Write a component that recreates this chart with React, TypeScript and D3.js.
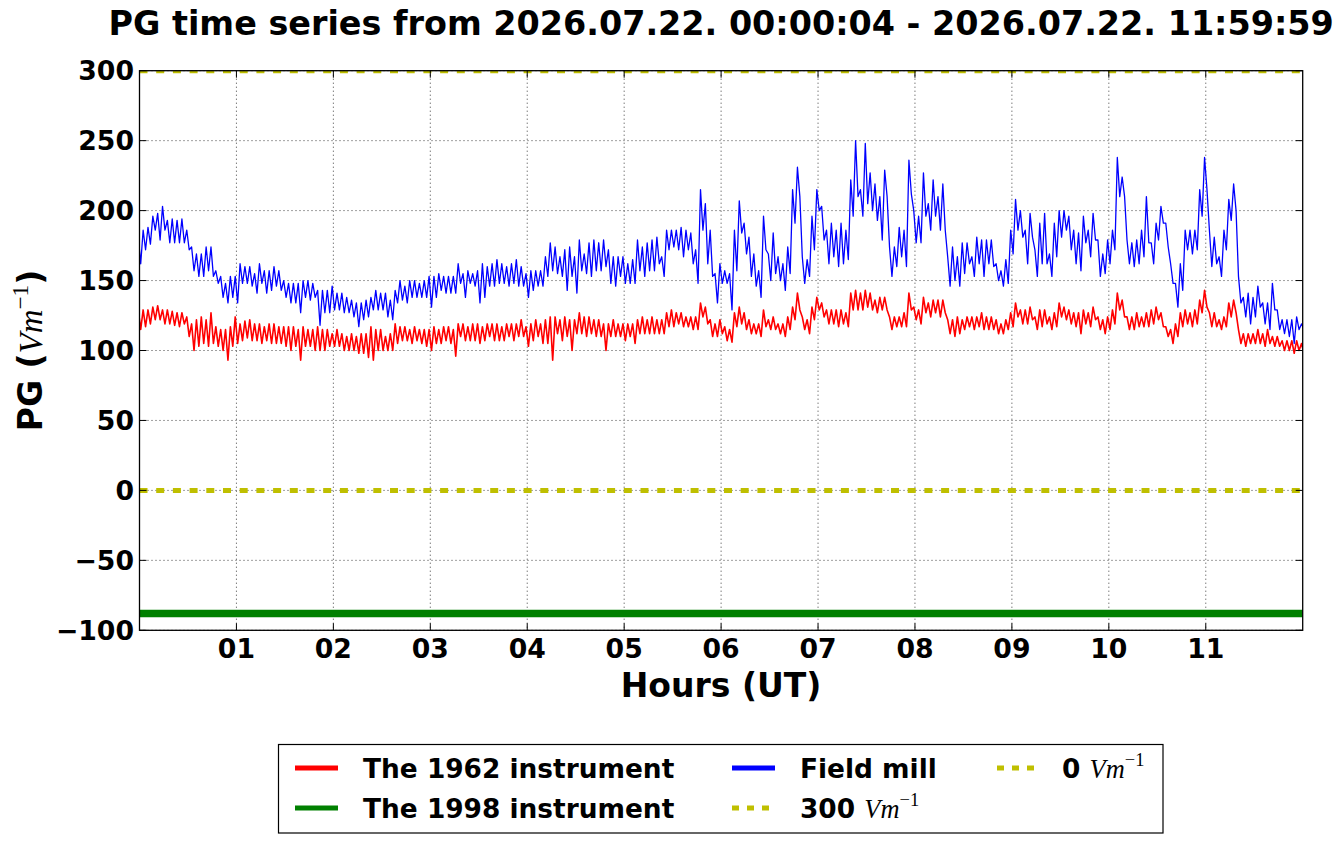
import * as d3 from 'd3'

// Sampled every 0.05 h: upper and lower edge of the noisy trace in each bin
const sampleStep = 0.05

const fieldMillHi = [
  181, 186, 188, 196, 198, 203, 193, 194, 193, 194, 186, 174, 169, 169, 174, 174, 157, 153, 148, 153,
  153, 162, 160, 160, 155, 162, 157, 157, 160, 157, 150, 148, 148, 148, 150, 150, 148, 143, 143, 143,
  146, 141, 141, 138, 136, 134, 134, 136, 138, 143, 141, 141, 136, 143, 150, 146, 150, 150, 148, 150, 153,
  153, 155, 153, 153, 153, 162, 155, 157, 155, 157, 162, 160, 162, 165, 162, 160, 162, 165, 160, 155,
  157, 157, 157, 167, 177, 174, 167, 172, 174, 167, 179, 169, 177, 179, 177, 179, 172, 167, 167, 167,
  162, 165, 179, 174, 177, 179, 181, 167, 186, 186, 186, 188, 186, 184, 172, 215, 205, 186, 155, 162,
  157, 155, 186, 207, 191, 181, 169, 157, 196, 169, 184, 167, 162, 174, 215, 231, 167, 165, 196, 215,
  203, 186, 191, 186, 191, 186, 222, 250, 215, 248, 227, 219, 210, 229, 174, 174, 188, 186, 236, 200,
  196, 227, 205, 222, 210, 219, 167, 174, 167, 177, 177, 167, 181, 179, 179, 179, 162, 157, 165, 186,
  208, 200, 186, 198, 172, 191, 198, 169, 191, 200, 200, 196, 186, 184, 196, 186, 198, 179, 169, 179,
  186, 238, 224, 179, 177, 179, 186, 210, 177, 191, 203, 191, 162, 148, 162, 186, 186, 186, 215, 238,
  186, 181, 167, 186, 208, 219, 153, 138, 141, 138, 146, 134, 134, 148, 129, 122, 122, 122, 124, 119,
]

const fieldMillLo = [
  162, 172, 176, 186, 179, 186, 177, 177, 177, 177, 172, 157, 153, 153, 157, 153, 148, 138, 134, 138,
  134, 148, 148, 146, 141, 148, 141, 143, 146, 143, 138, 134, 134, 127, 138, 136, 138, 118, 127, 127,
  129, 129, 127, 127, 124, 117, 122, 124, 129, 129, 129, 124, 122, 134, 136, 134, 138, 138, 138, 138, 131,
  138, 143, 141, 141, 141, 148, 138, 148, 146, 134, 138, 146, 146, 148, 148, 146, 148, 146, 146, 138,
  143, 146, 146, 153, 157, 155, 153, 143, 153, 141, 157, 155, 153, 157, 157, 160, 148, 146, 153, 148,
  148, 148, 157, 153, 157, 157, 162, 153, 172, 174, 172, 167, 172, 162, 148, 186, 162, 153, 134, 148,
  148, 129, 157, 184, 169, 153, 146, 138, 172, 150, 155, 150, 143, 155, 191, 210, 148, 153, 172, 200,
  179, 162, 167, 160, 162, 165, 196, 210, 196, 205, 200, 193, 179, 210, 153, 160, 167, 160, 212, 177,
  177, 196, 186, 196, 186, 186, 146, 150, 146, 155, 162, 153, 162, 153, 162, 160, 150, 146, 148, 169,
  186, 181, 162, 181, 153, 162, 162, 153, 167, 181, 186, 172, 162, 157, 177, 167, 179, 153, 155, 162,
  172, 210, 210, 162, 160, 162, 167, 177, 162, 179, 191, 174, 148, 131, 143, 172, 169, 172, 196, 215,
  160, 162, 153, 172, 193, 200, 134, 124, 119, 124, 131, 119, 115, 129, 115, 112, 110, 105, 115, 115,
]

const instr1962Hi = [
  129, 129, 129, 131, 132, 129, 129, 128, 127, 127, 124, 119, 122, 124, 122, 127, 117, 115, 115, 117,
  124, 119, 121, 122, 119, 119, 117, 119, 119, 117, 117, 117, 117, 115, 117, 115, 115, 117, 115, 115,
  112, 115, 112, 110, 112, 110, 112, 112, 117, 115, 115, 110, 112, 119, 117, 117, 115, 117, 115, 115, 115,
  117, 115, 117, 117, 115, 119, 119, 117, 119, 119, 117, 119, 119, 119, 117, 119, 119, 119, 122, 117,
  119, 122, 119, 122, 124, 124, 122, 124, 122, 122, 127, 124, 124, 122, 122, 119, 119, 122, 119, 119,
  119, 119, 122, 124, 122, 124, 122, 122, 127, 129, 127, 127, 124, 124, 124, 134, 131, 122, 119, 122,
  117, 115, 127, 131, 127, 122, 119, 119, 129, 122, 124, 119, 119, 124, 131, 141, 124, 122, 131, 138,
  134, 129, 129, 129, 129, 127, 141, 143, 141, 143, 141, 136, 138, 138, 124, 124, 124, 127, 141, 131,
  129, 138, 134, 136, 136, 136, 122, 122, 124, 122, 124, 124, 124, 127, 124, 124, 122, 119, 122, 127,
  134, 129, 129, 131, 124, 129, 129, 124, 127, 134, 131, 129, 127, 127, 129, 127, 131, 124, 122, 124,
  129, 141, 136, 124, 124, 127, 124, 127, 129, 131, 127, 117, 115, 119, 127, 129, 127, 129, 136, 143,
  127, 127, 122, 124, 134, 136, 115, 112, 112, 112, 115, 112, 115, 110, 110, 107, 107, 107, 107, 105,
]

const instr1962Lo = [
  115, 117, 119, 122, 122, 119, 119, 118, 117, 119, 110, 100, 103, 105, 103, 105, 103, 100, 93, 103,
  105, 107, 109, 107, 107, 105, 107, 105, 105, 105, 103, 100, 103, 93, 103, 103, 100, 100, 100, 103,
  103, 103, 100, 100, 100, 98, 98, 95, 93, 100, 100, 100, 100, 105, 107, 107, 105, 107, 105, 103, 100,
  105, 105, 107, 105, 96, 110, 107, 107, 107, 105, 107, 110, 107, 107, 107, 110, 107, 110, 110, 103,
  107, 110, 105, 105, 93, 112, 107, 110, 100, 112, 112, 110, 112, 110, 110, 100, 110, 110, 110, 107,
  110, 105, 112, 112, 112, 112, 112, 112, 117, 117, 119, 117, 117, 115, 115, 124, 119, 110, 110, 112,
  107, 106, 117, 119, 115, 112, 112, 110, 117, 115, 115, 112, 110, 115, 122, 129, 115, 112, 122, 129,
  124, 119, 119, 117, 119, 117, 129, 129, 129, 131, 129, 127, 129, 129, 115, 117, 117, 117, 129, 122,
  119, 127, 124, 127, 124, 127, 112, 110, 112, 115, 117, 115, 117, 115, 115, 115, 112, 112, 115, 117,
  124, 119, 119, 122, 115, 117, 119, 115, 117, 124, 122, 119, 117, 112, 119, 117, 122, 115, 112, 115,
  119, 129, 124, 115, 115, 117, 117, 117, 119, 122, 117, 110, 105, 110, 117, 119, 117, 119, 127, 131,
  117, 117, 115, 117, 124, 127, 105, 103, 105, 105, 105, 103, 105, 103, 103, 100, 100, 98, 100, 98,
]

const instr1998Level = -88
const refLevels = [0, 300]
const hourTicks = [1, 2, 3, 4, 5, 6, 7, 8, 9, 10, 11]
const pgTicks = [-100, -50, 0, 50, 100, 150, 200, 250, 300]

const W = 1341
const H = 844
const M = { left: 139.5, right: 1302.7, top: 70.7, bottom: 630.3 }
const SANS = '"DejaVu Sans", sans-serif'
const MATH = '"Liberation Serif", "DejaVu Serif", serif'
const YELLOW = '#bfbf00'

function traceOf(hi: number[], lo: number[]): [number, number][] {
  return hi.flatMap((v, i) => [
    [i * sampleStep - sampleStep / 4, v],
    [i * sampleStep + sampleStep / 4, lo[i]],
  ] as [number, number][])
}

function Unit({ size }: { size: number }) {
  return (
    <>
      <tspan fontFamily={MATH} fontStyle="italic" fontWeight="normal">Vm</tspan>
      <tspan fontFamily={MATH} fontWeight="normal" fontSize={size * 0.7} dy={-size * 0.42}>−1</tspan>
    </>
  )
}

export default function App() {
  const x = d3.scaleLinear().domain([0, 12]).range([M.left, M.right])
  const y = d3.scaleLinear().domain([-100, 300]).range([M.bottom, M.top])
  const line = d3.line<[number, number]>().x(d => x(d[0])).y(d => y(d[1]))

  const redPath = line(traceOf(instr1962Hi, instr1962Lo)) || ''
  const bluePath = line(traceOf(fieldMillHi, fieldMillLo)) || ''

  const pw = M.right - M.left
  const ph = M.bottom - M.top
  const tickLen = 7

  const legendRows = [
    { lx: 295, tx: 363, cy: 768, kind: 'red', label: 'The 1962 instrument' },
    { lx: 295, tx: 363, cy: 808, kind: 'green', label: 'The 1998 instrument' },
    { lx: 732, tx: 800, cy: 768, kind: 'blue', label: 'Field mill' },
    { lx: 732, tx: 800, cy: 808, kind: 'dot', label: '300 ' },
    { lx: 997, tx: 1062, cy: 768, kind: 'dot', label: '0 ' },
  ]
  const legendColor: Record<string, string> = { red: '#ff0000', green: '#008000', blue: '#0000ff', dot: YELLOW }

  return (
    <svg width={W} height={H} style={{ position: 'absolute', left: 0, top: 0, background: '#fff' }}>
      <defs>
        <clipPath id="plotClip">
          <rect x={M.left} y={M.top} width={pw} height={ph} />
        </clipPath>
      </defs>

      {/* title */}
      <text x={(M.left + M.right) / 2} y={35} textAnchor="middle" fontFamily={SANS} fontWeight="bold" fontSize={33.4}>
        PG time series from 2026.07.22. 00:00:04 - 2026.07.22. 11:59:59
      </text>

      {/* grid */}
      <g stroke="#000" strokeWidth={1} strokeDasharray="1 3" opacity={0.75}>
        {hourTicks.map(h => (
          <line key={'gx' + h} x1={x(h)} x2={x(h)} y1={M.top} y2={M.bottom} />
        ))}
        {pgTicks.map(v => (
          <line key={'gy' + v} x1={M.left} x2={M.right} y1={y(v)} y2={y(v)} />
        ))}
      </g>

      <g clipPath="url(#plotClip)">
        <path d={redPath} fill="none" stroke="#ff0000" strokeWidth={1.6} strokeLinejoin="round" />
        <path d={bluePath} fill="none" stroke="#0000ff" strokeWidth={1.3} strokeLinejoin="round" />
        <line x1={M.left} x2={M.right} y1={y(instr1998Level)} y2={y(instr1998Level)} stroke="#008000" strokeWidth={7.7} />
        {refLevels.map(v => (
          <line key={'ref' + v} x1={M.left} x2={M.right} y1={y(v)} y2={y(v)}
            stroke={YELLOW} strokeWidth={5} strokeDasharray="8 8.7" />
        ))}
      </g>

      {/* frame and ticks */}
      <rect x={M.left} y={M.top} width={pw} height={ph} fill="none" stroke="#000" strokeWidth={1.3} />
      <g stroke="#000" strokeWidth={1}>
        {hourTicks.map(h => (
          <g key={'tx' + h}>
            <line x1={x(h)} x2={x(h)} y1={M.bottom} y2={M.bottom - tickLen} />
            <line x1={x(h)} x2={x(h)} y1={M.top} y2={M.top + tickLen} />
          </g>
        ))}
        {pgTicks.map(v => (
          <g key={'ty' + v}>
            <line x1={M.left} x2={M.left + tickLen} y1={y(v)} y2={y(v)} />
            <line x1={M.right} x2={M.right - tickLen} y1={y(v)} y2={y(v)} />
          </g>
        ))}
      </g>

      {/* tick labels */}
      <g fontFamily={SANS} fontWeight="bold" fontSize={26.7}>
        {hourTicks.map(h => (
          <text key={'lx' + h} x={x(h)} y={658} textAnchor="middle">{d3.format('02d')(h)}</text>
        ))}
        {pgTicks.map(v => (
          <text key={'ly' + v} x={134} y={y(v)} dy="0.36em" textAnchor="end">
            {v < 0 ? '\u2212' + Math.abs(v) : String(v)}
          </text>
        ))}
      </g>

      {/* axis labels */}
      <text x={(M.left + M.right) / 2} y={697} textAnchor="middle" fontFamily={SANS} fontWeight="bold" fontSize={33}>
        Hours (UT)
      </text>
      <text transform={`translate(42, ${(M.top + M.bottom) / 2}) rotate(-90)`} textAnchor="middle"
        fontFamily={SANS} fontWeight="bold" fontSize={33}>
        <tspan>PG (</tspan>
        <Unit size={33} />
        <tspan dy={33 * 0.42}>)</tspan>
      </text>

      {/* legend */}
      <rect x={278.5} y={744.5} width={884.5} height={88.5} fill="#fff" stroke="#000" strokeWidth={1.2} />
      {legendRows.map(r => (
        <g key={r.label + r.cy}>
          {r.kind === 'dot' ? (
            <line x1={r.lx} x2={r.lx + 43} y1={r.cy} y2={r.cy} stroke={YELLOW} strokeWidth={5} strokeDasharray="7 8" />
          ) : (
            <line x1={r.lx} x2={r.lx + 43} y1={r.cy} y2={r.cy} stroke={legendColor[r.kind]} strokeWidth={5} />
          )}
          <text x={r.tx} y={r.cy + 9.5} fontFamily={SANS} fontWeight="bold" fontSize={26.4}>
            {r.label}
            {r.kind === 'dot' ? <Unit size={26.4} /> : null}
          </text>
        </g>
      ))}
    </svg>
  )
}
